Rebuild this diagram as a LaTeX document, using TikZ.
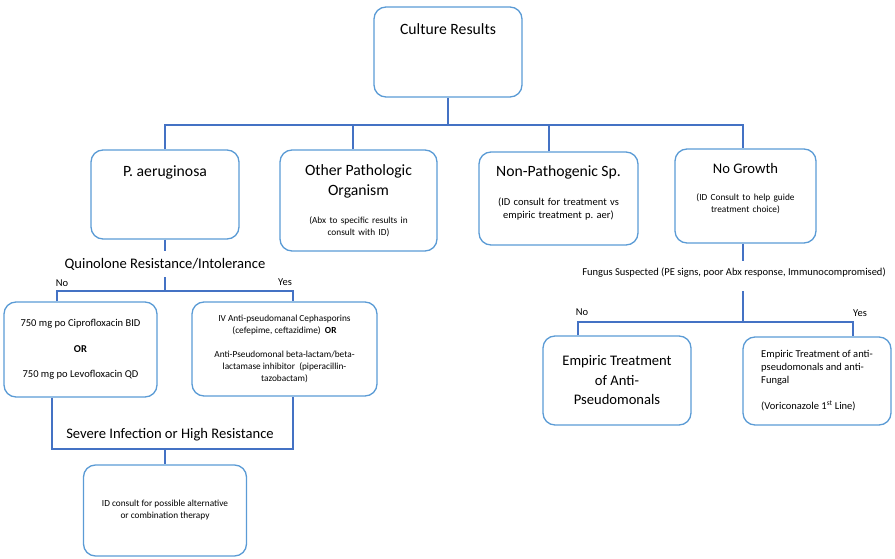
\documentclass[tikz,border=0pt]{standalone}
\usepackage{fontspec}
\setmainfont{Carlito}
\usepackage{tikz}

\definecolor{boxblue}{HTML}{5B9BD5}
\definecolor{lineblue}{HTML}{4472C4}

\newcommand{\bigtxt}{\fontsize{15.7}{20}\selectfont}
\newcommand{\midtxt}{\fontsize{14.6}{19.5}\selectfont}
\newcommand{\smtxt}{\fontsize{10.5}{13}\selectfont}
\newcommand{\tinytxt}{\fontsize{9.3}{12}\selectfont}

\begin{document}
\frenchspacing
\begin{tikzpicture}[
  x=1pt, y=-1pt,
  box/.style={draw=boxblue, line width=1.3pt, rounded corners=12pt,
              align=center, inner sep=2pt},
  link/.style={draw=lineblue, line width=1.4pt},
  lbl/.style={inner ysep=7pt, inner xsep=2pt},
]
\useasboundingbox (0,0) rectangle (895,559);

\node[box, minimum width=148pt, minimum height=90pt] (culture) at (448,52)
  {\bigtxt Culture Results\rule[-45pt]{0pt}{45pt}};

\node[box, minimum width=148pt, minimum height=89pt] (paer) at (165,194.5)
  {\bigtxt P. aeruginosa\rule[-46pt]{0pt}{46pt}};
\node[box, minimum width=157pt, minimum height=101pt, text width=150pt] (other) at (358.5,200.5)
  {{\bigtxt Other Pathologic\\Organism\par}\vspace{15.5pt}%
   {\tinytxt (Abx to specific results in\\consult with ID)\par}};
\node[box, minimum width=159pt, minimum height=93pt, text width=152pt] (nonpath) at (558.5,198.5)
  {{\bigtxt Non-Pathogenic Sp.\par}\vspace{16.5pt}%
   {\smtxt (ID consult for treatment vs\\empiric treatment p. aer)\rule[-12.5pt]{0pt}{12.5pt}\par}};
\node[box, minimum width=141pt, minimum height=94pt, text width=135pt] (nogrowth) at (745.5,196)
  {{\midtxt No Growth\par}\vspace{14.4pt}%
   {\tinytxt (ID Consult to help guide\\treatment choice)\rule[-16pt]{0pt}{16pt}\par}};

\node[lbl, font=\midtxt] (quin) at (165,264) {Quinolone Resistance/Intolerance};
\node[font=\smtxt] (qno) at (62,283) {No};
\node[font=\smtxt] (qyes) at (285,282) {Yes};

\node[box, minimum width=153pt, minimum height=95pt, font=\smtxt] (cipro) at (80.5,349.5)
  {750 mg po Ciprofloxacin BID\\[12.5pt]\textbf{OR}\\[12.5pt]750 mg po Levofloxacin QD};
\node[box, minimum width=185pt, minimum height=94pt, font=\tinytxt] (iv) at (284.5,349)
  {IV Anti-pseudomanal Cephasporins\\(cefepime, ceftazidime)\ \ \textbf{OR}\\[12.5pt]
   Anti-Pseudomonal beta-lactam/beta-\\lactamase inhibitor\ \ (piperacillin-\\tazobactam)};

\node[lbl, font=\midtxt] (severe) at (170,435) {Severe Infection or High Resistance};
\node[box, minimum width=163pt, minimum height=91pt, font=\tinytxt] (idc) at (165,510.5)
  {ID consult for possible alternative\\or combination therapy};

\node[lbl, font=\smtxt, anchor=base, text depth=8pt] (fungus) at (734,276)
  {Fungus Suspected (PE signs, poor Abx response, Immunocompromised)};
\node[font=\smtxt] (fno) at (582,312) {No};
\node[font=\smtxt] (fyes) at (860,313) {Yes};

\node[box, minimum width=148pt, minimum height=89pt, font=\midtxt] (emp) at (617,380.5)
  {Empiric Treatment\\of Anti-\\Pseudomonals};
\node[box, minimum width=148pt, minimum height=88pt, font=\smtxt, align=left] (fung) at (817,381)
  {Empiric Treatment of anti-\\pseudomonals and anti-\\Fungal\\[13pt](Voriconazole 1\textsuperscript{st} Line)};

\coordinate (split) at (448,125);
\draw[link] (culture) -- (split);
\draw[link] (paer.north) |- (split) -| ([xshift=-2.5pt]nogrowth.north);
\draw[link] ([xshift=-5.5pt]other.north) |- (split);
\draw[link] ([xshift=-9.5pt]nonpath.north) |- (split);

\coordinate (qsplit) at (165,291);
\draw[link] (paer) -- (quin);
\draw[link] (quin) -- (qsplit);
\draw[link] ([xshift=-23.5pt]cipro.north) |- (qsplit) -| ([xshift=8.5pt]iv.north);

\coordinate (ssplit) at (165,449);
\draw[link] ([xshift=-28.5pt]cipro.south) |- (ssplit) -| ([xshift=8.5pt]iv.south);
\draw[link] (ssplit) -- (idc);

\coordinate (fdrop) at ([xshift=-2.5pt]nogrowth.south);
\coordinate (fsplit) at (743,322);
\draw[link] (fdrop) -- (fdrop |- fungus.north);
\draw[link] (fsplit |- fungus.south) -- (fsplit);
\draw[link] ([xshift=-39pt]emp.north) |- (fsplit) -| ([xshift=36pt]fung.north);
\end{tikzpicture}
\end{document}
